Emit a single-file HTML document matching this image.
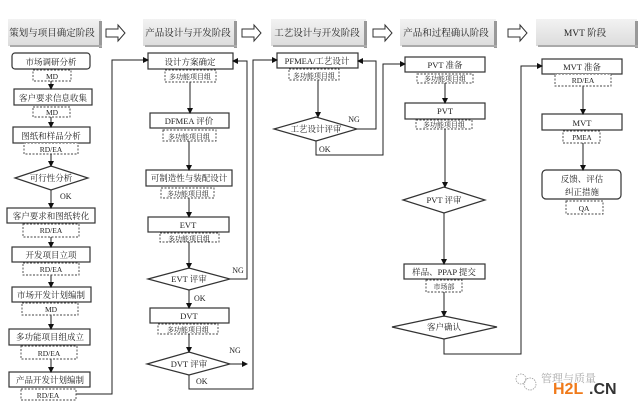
<!DOCTYPE html>
<html><head><meta charset="utf-8"><style>
html,body{margin:0;padding:0;background:#fff;}
svg{display:block;}
text{font-family:"Liberation Serif","Noto Serif CJK SC",serif;fill:#222;}
</style></head><body>
<svg width="640" height="410" viewBox="0 0 640 410" xmlns="http://www.w3.org/2000/svg">
<defs>
<marker id="a" markerWidth="6" markerHeight="6" refX="5" refY="3" orient="auto" markerUnits="userSpaceOnUse"><path d="M0,0 L6,3 L0,6 z" fill="#111"/></marker>
<linearGradient id="g" x1="0" y1="0" x2="0" y2="1"><stop offset="0" stop-color="#f2f2f2"/><stop offset="1" stop-color="#dcdcdc"/></linearGradient>
</defs>
<!-- headers -->
<g stroke="none">
<rect x="8" y="19" width="93" height="27" fill="url(#g)"/><rect x="99" y="21" width="3" height="27" fill="#999"/><rect x="10" y="45" width="92" height="2" fill="#aaa"/>
<rect x="143" y="19" width="93" height="27" fill="url(#g)"/><rect x="234" y="21" width="3" height="27" fill="#999"/><rect x="145" y="45" width="92" height="2" fill="#aaa"/>
<rect x="271" y="19" width="95" height="27" fill="url(#g)"/><rect x="364" y="21" width="3" height="27" fill="#999"/><rect x="273" y="45" width="94" height="2" fill="#aaa"/>
<rect x="400" y="19" width="96" height="27" fill="url(#g)"/><rect x="494" y="21" width="3" height="27" fill="#999"/><rect x="402" y="45" width="95" height="2" fill="#aaa"/>
<rect x="536" y="19" width="101" height="27" fill="url(#g)"/><rect x="635" y="21" width="3" height="27" fill="#999"/><rect x="538" y="45" width="100" height="2" fill="#aaa"/>
</g>
<g font-size="9.5" text-anchor="middle">
<text x="52" y="36">策划与项目确定阶段</text>
<text x="188" y="36">产品设计与开发阶段</text>
<text x="317" y="36">工艺设计与开发阶段</text>
<text x="446" y="36">产品和过程确认阶段</text>
<text x="585" y="36">MVT 阶段</text>
</g>
<!-- hollow arrows -->
<g fill="#fff" stroke="#333" stroke-width="1">
<path d="M106,29 h12 v-4 l7,8 l-7,8 v-4 h-12 z"/>
<path d="M242,29 h12 v-4 l7,8 l-7,8 v-4 h-12 z"/>
<path d="M373,29 h12 v-4 l7,8 l-7,8 v-4 h-12 z"/>
<path d="M508,29 h12 v-4 l7,8 l-7,8 v-4 h-12 z"/>
</g>
<!-- solid boxes -->
<g fill="#fff" stroke="#333" stroke-width="1.2">
<rect x="12" y="53" width="78" height="16" rx="3"/>
<rect x="14" y="89" width="78" height="16"/>
<rect x="13" y="127" width="77" height="16"/>
<rect x="7" y="208" width="88" height="15"/>
<rect x="12" y="247" width="78" height="15"/>
<rect x="12" y="287" width="79" height="15"/>
<rect x="9" y="329" width="81" height="16"/>
<rect x="9" y="372" width="81" height="15"/>
<rect x="148" y="53" width="85" height="16"/>
<rect x="150" y="113" width="79" height="15"/>
<rect x="146" y="170" width="86" height="16"/>
<rect x="148" y="217" width="81" height="15"/>
<rect x="150" y="308" width="79" height="15"/>
<rect x="277" y="53" width="81" height="15"/>
<rect x="405" y="57" width="80" height="15"/>
<rect x="405" y="103" width="80" height="16"/>
<rect x="404" y="264" width="81" height="15"/>
<rect x="542" y="59" width="80" height="15"/>
<rect x="542" y="114" width="80" height="16"/>
<rect x="542" y="170" width="79" height="29" rx="4"/>
<path d="M15,178 L51,166 L88,178 L51,190 Z"/>
<path d="M148,279 L189,268 L230,279 L189,290 Z"/>
<path d="M147,364 L189,352 L230,364 L189,375 Z"/>
<path d="M274,129 L316,117 L357,129 L316,141 Z"/>
<path d="M403,200 L444,187 L485,200 L444,213 Z"/>
<path d="M392,327 L444,316 L497,327 L444,339 Z"/>
</g>
<!-- dashed boxes -->
<g fill="#fff" stroke="#444" stroke-width="0.9" stroke-dasharray="2,1.5">
<rect x="33" y="70" width="38" height="11"/>
<rect x="33" y="107" width="37" height="10"/>
<rect x="24" y="143" width="54" height="11"/>
<rect x="23" y="224" width="56" height="13"/>
<rect x="23" y="263" width="56" height="12"/>
<rect x="22" y="303" width="56" height="12"/>
<rect x="21" y="346" width="56" height="13"/>
<rect x="21" y="389" width="55" height="11"/>
<rect x="165" y="70" width="51" height="12"/>
<rect x="163" y="130" width="53" height="11"/>
<rect x="161" y="188" width="53" height="10"/>
<rect x="160" y="233" width="59" height="9"/>
<rect x="158" y="324" width="60" height="10"/>
<rect x="289" y="69" width="50" height="11"/>
<rect x="417" y="74" width="56" height="9"/>
<rect x="416" y="120" width="56" height="9"/>
<rect x="426" y="280" width="36" height="12"/>
<rect x="555" y="74" width="56" height="12"/>
<rect x="563" y="131" width="37" height="12"/>
<rect x="566" y="201" width="37" height="13"/>
</g>
<!-- connectors -->
<g fill="none" stroke="#222" stroke-width="1" marker-end="url(#a)">
<path d="M51,81 V89"/><path d="M51,117 V127"/><path d="M51,154 V166"/><path d="M51,190 V208"/>
<path d="M51,237 V247"/><path d="M51,275 V287"/><path d="M51,315 V329"/><path d="M51,359 V372"/>
<path d="M76,394 H112 V60 H148"/>
<path d="M190,82 V113"/><path d="M189,141 V170"/><path d="M189,198 V217"/><path d="M189,242 V268"/>
<path d="M189,290 V308"/><path d="M189,334 V352"/>
<path d="M230,279 H247 V61 H233"/>
<path d="M230,364 H247"/>
<path d="M189,375 V389 H253 V60 H277"/>
<path d="M318,80 V117"/>
<path d="M357,129 H376 V61 H358"/>
<path d="M316,141 V155 H383 V64 H405"/>
<path d="M445,83 V103"/><path d="M445,129 V187"/><path d="M444,213 V264"/><path d="M444,292 V316"/>
<path d="M444,339 V354 H521 V66 H542"/>
<path d="M583,86 V114"/><path d="M583,143 V170"/>
</g>
<g font-size="8.5" text-anchor="middle">
<text x="51" y="65">市场调研分析</text>
<text x="52" y="79" font-size="7.5">MD</text>
<text x="53" y="101">客户要求信息收集</text>
<text x="52" y="115" font-size="7.5">MD</text>
<text x="51" y="139">图纸和样品分析</text>
<text x="51" y="152" font-size="7.5">RD/EA</text>
<text x="51" y="181">可行性分析</text>
<text x="60" y="199" text-anchor="start" font-size="8" x-fix="">OK</text>
<text x="51" y="219">客户要求和图纸转化</text>
<text x="51" y="233" font-size="7.5">RD/EA</text>
<text x="51" y="258">开发项目立项</text>
<text x="51" y="272" font-size="7.5">RD/EA</text>
<text x="51" y="298">市场开发计划编制</text>
<text x="51" y="312" font-size="7.5">MD</text>
<text x="50" y="340">多功能项目组成立</text>
<text x="49" y="356" font-size="7.5">RD/EA</text>
<text x="50" y="383">产品开发计划编制</text>
<text x="48" y="398" font-size="7.5">RD/EA</text>
<text x="190" y="65">设计方案确定</text>
<text x="190" y="79" font-size="7">多功能项目组</text>
<text x="189" y="124">DFMEA 评价</text>
<text x="189" y="139" font-size="7">多功能项目组</text>
<text x="189" y="181">可制造性与装配设计</text>
<text x="188" y="196" font-size="7">多功能项目组</text>
<text x="188" y="228">EVT</text>
<text x="189" y="241" font-size="7">多功能项目组</text>
<text x="189" y="282">EVT 评审</text>
<text x="194" y="301" text-anchor="start" font-size="8">OK</text>
<text x="238" y="273" font-size="8">NG</text>
<text x="189" y="319">DVT</text>
<text x="188" y="332" font-size="7">多功能项目组</text>
<text x="189" y="367">DVT 评审</text>
<text x="196" y="384" text-anchor="start" font-size="8">OK</text>
<text x="235" y="353" font-size="8">NG</text>
<text x="317" y="64">PFMEA/工艺设计</text>
<text x="314" y="78" font-size="7">多功能项目组</text>
<text x="316" y="132">工艺设计评审</text>
<text x="354" y="122" font-size="8">NG</text>
<text x="319" y="152" text-anchor="start" font-size="8">OK</text>
<text x="445" y="68">PVT 准备</text>
<text x="445" y="81" font-size="7">多功能项目组</text>
<text x="445" y="114">PVT</text>
<text x="444" y="127" font-size="7">多功能项目组</text>
<text x="444" y="203">PVT 评审</text>
<text x="444" y="275">样品、PPAP 提交</text>
<text x="444" y="289" font-size="7">市场部</text>
<text x="444" y="330">客户确认</text>
<text x="582" y="70">MVT 准备</text>
<text x="583" y="83" font-size="7.5">RD/EA</text>
<text x="582" y="126">MVT</text>
<text x="582" y="140" font-size="7">PMEA</text>
<text x="582" y="182">反馈、评估</text>
<text x="582" y="195">纠正措施</text>
<text x="584" y="211" font-size="7.5">QA</text>
</g>
<!-- watermark -->
<g fill="none" stroke="#999" stroke-width="0.8" stroke-dasharray="1.5,1">
<circle cx="521" cy="379" r="5"/><circle cx="530" cy="384" r="6"/>
</g>
<text x="541" y="382" font-size="11" fill="#aaa" style="fill:#aaa">管理与质量</text>
<text x="553" y="394" font-size="16" font-weight="bold" style="font-family:'Liberation Sans',sans-serif;fill:#f07a1a">H2L</text>
<text x="589" y="394" font-size="16" font-weight="bold" style="font-family:'Liberation Sans',sans-serif;fill:#333">.CN</text>
</svg>
</body></html>
